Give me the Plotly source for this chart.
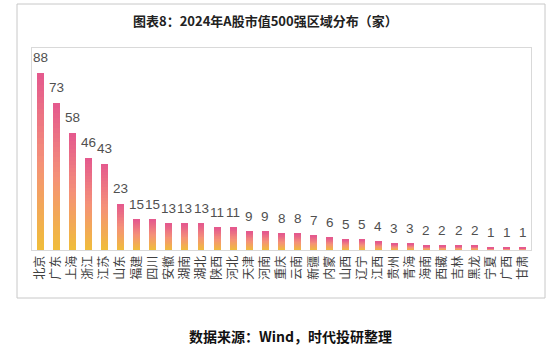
import plotly.graph_objects as go
import numpy as np

categories = ["北京", "广东", "上海", "浙江", "江苏", "山东", "福建", "四川", "安徽", "湖南",
              "湖北", "陕西", "河北", "天津", "河南", "重庆", "云南", "新疆", "内蒙", "山西",
              "辽宁", "江西", "贵州", "青海", "海南", "西藏", "吉林", "黑龙", "宁夏", "广西", "甘肃"]
values = [88, 73, 58, 46, 43, 23, 15, 15, 13, 13,
          13, 11, 11, 9, 9, 8, 8, 7, 6, 5,
          5, 4, 3, 3, 2, 2, 2, 2, 1, 1, 1]

title_text = "图表8：2024年A股市值500强区域分布（家）"
source_text = "数据来源：Wind，时代投研整理"

# gradient stops (bottom -> top)
stops = [(0.0, (240, 189, 58)), (0.5, (245, 145, 120)), (1.0, (228, 88, 142))]


def interp(t):
    for (t0, c0), (t1, c1) in zip(stops[:-1], stops[1:]):
        if t0 <= t <= t1:
            f = (t - t0) / (t1 - t0)
            return "rgb(%d,%d,%d)" % tuple(round(a + (b - a) * f) for a, b in zip(c0, c1))
    return "rgb(%d,%d,%d)" % stops[-1][1]


N = 30
vals = np.array(values, dtype=float)
fig = go.Figure()
for i in range(N):
    fig.add_trace(go.Bar(
        x=categories, y=vals / N,
        marker=dict(color=interp((i + 0.5) / N), line=dict(width=0)),
        hoverinfo="skip", showlegend=False,
    ))

W, H = 555, 351
ml, mr, mt, mb = 32, 24, 48, 101
pw, ph = W - ml - mr, H - mt - mb


def px_x(p):
    return (p - ml) / pw


def px_y(p):
    return (H - mb - p) / ph


value_labels = [dict(x=c, y=v, xref="x", yref="y", text=str(v), showarrow=False,
                     xanchor="center", yanchor="bottom", yshift=6,
                     font=dict(family="Liberation Sans, Arial, sans-serif",
                               size=13.5, color="#505050"))
                for c, v in zip(categories, values)]

fig.update_layout(
    width=W, height=H,
    margin=dict(l=ml, r=mr, t=mt, b=mb, autoexpand=False),
    paper_bgcolor="white", plot_bgcolor="white",
    barmode="stack", bargap=0.57,
    font=dict(family="Noto Sans CJK SC, sans-serif", color="#404040"),
    xaxis=dict(
        range=[-0.5, len(categories) - 0.5], automargin=False,
        tickangle=-90, tickfont=dict(size=12, color="#404040"),
        showline=True, linecolor="#d9d9d9", linewidth=1, mirror=True,
        ticks="", showgrid=False,
    ),
    yaxis=dict(
        range=[0, 100.5], showticklabels=False, showgrid=False, zeroline=False, automargin=False,
        showline=True, linecolor="#d9d9d9", linewidth=1, mirror=True, ticks="",
    ),
    shapes=[dict(
        type="rect", xref="paper", yref="paper",
        x0=px_x(17), x1=px_x(545), y0=px_y(298), y1=px_y(4),
        line=dict(color="#c8c8c8", width=1), fillcolor="rgba(0,0,0,0)", layer="below",
    )],
    annotations=value_labels + [
        dict(text="<b>" + title_text + "</b>", xref="paper", yref="paper",
             x=px_x(265), y=px_y(20), showarrow=False, xanchor="center", yanchor="middle",
             font=dict(size=13, color="#222222", family="Noto Sans CJK SC")),
        dict(text="<b>" + source_text + "</b>", xref="paper", yref="paper",
             x=px_x(290), y=px_y(336), showarrow=False, xanchor="center", yanchor="middle",
             font=dict(size=14, color="#111111", family="Noto Sans CJK SC")),
    ],
)

fig.write_html("out.html")
